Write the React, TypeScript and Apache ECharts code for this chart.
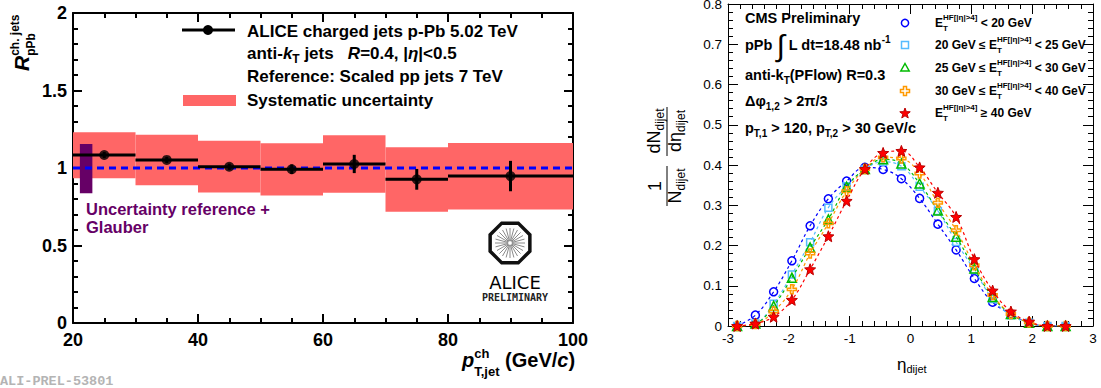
import React, { useEffect, useRef } from "react";
import * as echarts from "echarts";

// ---------- Left panel data (ALICE R_pPb) ----------
const binLo = [20, 30, 40, 50, 60, 70, 80];
const binHi = [30, 40, 50, 60, 70, 80, 100];
const binCenter = [25, 35, 45, 55, 65, 75, 90];
const rpPb = [1.084, 1.052, 1.008, 0.992, 1.026, 0.927, 0.948];
const statErr = [0.02, 0.02, 0.02, 0.031, 0.059, 0.067, 0.098];
const sysLo = [0.934, 0.889, 0.842, 0.823, 0.841, 0.718, 0.733];
const sysHi = [1.23, 1.215, 1.176, 1.159, 1.211, 1.134, 1.161];
const refUncX = [21.1, 23.1];
const refUncY = [0.837, 1.155];
const unityX = [20, 100];
const unityY = [1, 1];
const leftLegend = [
  "ALICE charged jets p-Pb 5.02 TeV",
  "Reference: Scaled pp jets 7 TeV",
  "Systematic uncertainty",
];
const refCaption = "Uncertainty reference +\nGlauber";

// ---------- Right panel data (CMS dijet eta) ----------
const etaBins = [-2.85, -2.55, -2.25, -1.95, -1.65, -1.35, -1.05, -0.75, -0.45, -0.15, 0.15, 0.45, 0.75, 1.05, 1.35, 1.65, 1.95, 2.25, 2.55];
const hfBin1 = [0.0, 0.027, 0.085, 0.162, 0.249, 0.316, 0.36, 0.394, 0.389, 0.366, 0.317, 0.253, 0.189, 0.118, 0.059, 0.03, 0.008, 0.0, 0.0];
const hfBin2 = [0.0, 0.006, 0.055, 0.128, 0.208, 0.294, 0.347, 0.389, 0.408, 0.397, 0.346, 0.286, 0.209, 0.139, 0.067, 0.027, 0.008, 0.0, 0.0];
const hfBin3 = [0.0, 0.006, 0.05, 0.12, 0.195, 0.265, 0.346, 0.39, 0.414, 0.404, 0.354, 0.287, 0.222, 0.143, 0.072, 0.03, 0.008, 0.0, 0.0];
const hfBin4 = [0.0, 0.005, 0.036, 0.091, 0.18, 0.255, 0.335, 0.39, 0.419, 0.416, 0.379, 0.306, 0.238, 0.151, 0.077, 0.03, 0.009, 0.0, 0.0];
const hfBin5 = [0.0, 0.006, 0.023, 0.065, 0.141, 0.223, 0.311, 0.39, 0.43, 0.435, 0.394, 0.331, 0.271, 0.166, 0.088, 0.036, 0.011, 0.0, 0.0];
const hfPre = ["", "20 GeV ≤ ", "25 GeV ≤ ", "30 GeV ≤ ", ""];
const hfPost = [" < 20 GeV", " < 25 GeV", " < 30 GeV", " < 40 GeV", " ≥ 40 GeV"];

const FF = '"Liberation Sans", "DejaVu Sans", Arial, sans-serif';

let mctx: CanvasRenderingContext2D | null = null;
function tw(text: string, font: string): number {
  if (!mctx) mctx = document.createElement("canvas").getContext("2d");
  mctx!.font = font;
  return mctx!.measureText(text).width;
}

type Part = { t: string; s: number; w?: string; dy?: number; stack?: boolean; fill?: string; fam?: string };

function formula(parts: Part[], x: number, y: number, opts: { align?: string; rotation?: number; fill?: string } = {}) {
  const items: { x: number; p: Part; font: string }[] = [];
  let cx = 0;
  for (let i = 0; i < parts.length; i++) {
    const p = parts[i];
    const font = `${p.w || "bold"} ${p.s}px ${p.fam || FF}`;
    const w = tw(p.t, font);
    if (p.stack && i + 1 < parts.length) {
      const q = parts[i + 1];
      const fq = `${q.w || "bold"} ${q.s}px ${q.fam || FF}`;
      const wq = tw(q.t, fq);
      items.push({ x: cx, p, font });
      items.push({ x: cx, p: q, font: fq });
      cx += Math.max(w, wq);
      i++;
    } else {
      items.push({ x: cx, p, font });
      cx += w;
    }
  }
  const off = opts.align === "center" ? -cx / 2 : opts.align === "right" ? -cx : 0;
  return {
    type: "group",
    x,
    y,
    rotation: opts.rotation || 0,
    silent: true,
    children: items.map((it) => ({
      type: "text",
      x: it.x + off,
      y: it.p.dy || 0,
      style: {
        text: it.p.t,
        font: it.font,
        fill: it.p.fill || opts.fill || "#000",
        align: "left",
        verticalAlign: "middle",
      },
    })),
  };
}

const starPath = "path://M12,1 L14.9,8.6 L23,9.2 L16.8,14.5 L18.7,22.5 L12,18.2 L5.3,22.5 L7.2,14.5 L1,9.2 L9.1,8.6 Z";
const plusPath = "path://M9,1 L15,1 L15,9 L23,9 L23,15 L15,15 L15,23 L9,23 L9,15 L1,15 L1,9 L9,9 Z";

const rightSeriesCfg = [
  { data: hfBin1, color: "#0000ff", symbol: "circle", size: 8, fill: "rgba(0,0,0,0)", border: "#0000ff" },
  { data: hfBin2, color: "#55bbff", symbol: "rect", size: 7, fill: "rgba(0,0,0,0)", border: "#55bbff" },
  { data: hfBin3, color: "#00bb00", symbol: "triangle", size: 9, fill: "rgba(0,0,0,0)", border: "#00bb00" },
  { data: hfBin4, color: "#ff9900", symbol: plusPath, size: 9, fill: "rgba(0,0,0,0)", border: "#ff9900" },
  { data: hfBin5, color: "#ff0000", symbol: starPath, size: 11, fill: "#ff0000", border: "#bb0000" },
];

function starPoints(cx: number, cy: number, r1: number, r2: number) {
  const pts: number[][] = [];
  for (let k = 0; k < 10; k++) {
    const a = -Math.PI / 2 + (k * Math.PI) / 5;
    const r = k % 2 === 0 ? r1 : r2;
    pts.push([cx + r * Math.cos(a), cy + r * Math.sin(a)]);
  }
  return pts;
}

function buildOption() {
  const leftAxisStyle = {
    axisLine: { show: true, onZero: false, lineStyle: { color: "#000", width: 2 } },
    axisTick: { show: true, inside: true, length: 9, lineStyle: { color: "#000", width: 2 } },
    minorTick: { show: true, length: 5, lineStyle: { color: "#000", width: 2 } },
    splitLine: { show: false },
    minorSplitLine: { show: false },
  };
  const rightAxisStyle = {
    axisLine: { show: true, onZero: false, lineStyle: { color: "#000", width: 1 } },
    axisTick: { show: true, inside: true, length: 10, lineStyle: { color: "#000", width: 1 } },
    minorTick: { show: true, length: 5, lineStyle: { color: "#000", width: 1 } },
    splitLine: { show: false },
    minorSplitLine: { show: false },
  };
  const leftLabel = { show: true, fontFamily: FF, fontWeight: "bold", fontSize: 18, color: "#000", showMinLabel: true, showMaxLabel: true };
  const rightLabel = { show: true, fontFamily: FF, fontWeight: "normal", fontSize: 13.5, color: "#000", showMinLabel: true, showMaxLabel: true };
  const fmt = (v: number) => (v === 0 ? "0" : String(+v.toFixed(1)));

  const graphics: any[] = [];
  // left y title
  graphics.push(
    formula(
      [
        { t: "R", s: 21, w: "italic bold" },
        { t: "ch. jets", s: 12, dy: -6, stack: true },
        { t: "pPb", s: 12, dy: 10 },
      ],
      21,
      71,
      { rotation: Math.PI / 2 }
    )
  );
  // left x title
  graphics.push(
    formula(
      [
        { t: "p", s: 20, w: "italic bold" },
        { t: "ch", s: 13, dy: -7, stack: true },
        { t: "T,jet", s: 13, dy: 11 },
        { t: " (GeV/", s: 20 },
        { t: "c", s: 20, w: "italic bold" },
        { t: ")", s: 20 },
      ],
      462,
      360
    )
  );
  // left legend
  graphics.push({ type: "line", shape: { x1: 182, y1: 30, x2: 235, y2: 30 }, style: { stroke: "#000", lineWidth: 3 } });
  graphics.push({ type: "circle", shape: { cx: 208, cy: 30, r: 5 }, style: { fill: "#000" } });
  graphics.push(formula([{ t: leftLegend[0], s: 17 }], 247, 31));
  graphics.push(
    formula(
      [
        { t: "anti-", s: 17 },
        { t: "k", s: 17, w: "italic bold" },
        { t: "T", s: 12, dy: 6 },
        { t: " jets   ", s: 17 },
        { t: "R", s: 17, w: "italic bold" },
        { t: "=0.4, |", s: 17 },
        { t: "η", s: 17, w: "italic bold" },
        { t: "|<0.5", s: 17 },
      ],
      247,
      53
    )
  );
  graphics.push(formula([{ t: leftLegend[1], s: 17 }], 247, 76));
  graphics.push({ type: "rect", shape: { x: 183, y: 95, width: 53, height: 11 }, style: { fill: "#ff6666" } });
  graphics.push(formula([{ t: leftLegend[2], s: 17 }], 247, 100));
  // purple caption
  graphics.push({
    type: "text",
    x: 86,
    y: 218,
    silent: true,
    style: { text: refCaption, font: `bold 16.5px ${FF}`, fill: "#660066", align: "left", verticalAlign: "middle", lineHeight: 17.5 },
  });
  // ALICE logo
  const ocx = 510, ocy = 243, orad = 21.5;
  const oct: number[][] = [];
  for (let k = 0; k < 8; k++) {
    const a = Math.PI / 8 + (k * Math.PI) / 4;
    oct.push([ocx + orad * Math.cos(a), ocy + orad * Math.sin(a)]);
  }
  graphics.push({ type: "polygon", shape: { points: oct }, style: { fill: "#fff", stroke: "#111", lineWidth: 3.5 } });
  for (let k = 0; k < 24; k++) {
    const a = (k * Math.PI) / 12;
    graphics.push({
      type: "line",
      shape: { x1: ocx + 2 * Math.cos(a), y1: ocy + 2 * Math.sin(a), x2: ocx + 15 * Math.cos(a), y2: ocy + 15 * Math.sin(a) },
      style: { stroke: "#8a8a8a", lineWidth: 1 },
    });
  }
  graphics.push({
    type: "text",
    x: 515,
    y: 282,
    style: { text: "ALICE", font: 'normal 18px "DejaVu Sans", sans-serif', fill: "#000", align: "center", verticalAlign: "middle" },
  });
  graphics.push({
    type: "text",
    x: 515,
    y: 297,
    style: { text: "PRELIMINARY", font: 'bold 10px "DejaVu Sans Mono", monospace', fill: "#222", align: "center", verticalAlign: "middle" },
  });
  graphics.push({
    type: "text",
    x: 0,
    y: 381,
    style: { text: "ALI-PREL-53801", font: 'bold 13.5px "Liberation Mono", monospace', fill: "#b4b4b4", align: "left", verticalAlign: "middle" },
  });

  // right panel titles
  graphics.push(formula([{ t: "dN", s: 18, w: "normal" }, { t: "dijet", s: 12, w: "normal", dy: 6 }], 654, 131, { align: "center", rotation: Math.PI / 2 }));
  graphics.push(formula([{ t: "dη", s: 18, w: "normal" }, { t: "dijet", s: 12, w: "normal", dy: 6 }], 675, 131, { align: "center", rotation: Math.PI / 2 }));
  graphics.push({ type: "line", shape: { x1: 667, y1: 107, x2: 667, y2: 156 }, style: { stroke: "#000", lineWidth: 1 } });
  graphics.push(formula([{ t: "1", s: 18, w: "normal" }], 655, 186, { align: "center", rotation: Math.PI / 2 }));
  graphics.push(formula([{ t: "N", s: 18, w: "normal" }, { t: "dijet", s: 12, w: "normal", dy: 6 }], 675, 186, { align: "center", rotation: Math.PI / 2 }));
  graphics.push({ type: "line", shape: { x1: 667, y1: 166, x2: 667, y2: 206 }, style: { stroke: "#000", lineWidth: 1 } });
  graphics.push(formula([{ t: "η", s: 17, w: "normal" }, { t: "dijet", s: 11, w: "normal", dy: 5 }], 897, 364));

  // right panel text block
  graphics.push(formula([{ t: "CMS Preliminary", s: 14.5 }], 745, 18));
  graphics.push(
    formula(
      [
        { t: "pPb ", s: 14.5 },
        { t: "∫", s: 30, w: "normal" },
        { t: " L dt=18.48 nb", s: 14.5 },
        { t: "-1", s: 10, dy: -6 },
      ],
      745,
      45
    )
  );
  graphics.push(formula([{ t: "anti-k", s: 14.5 }, { t: "T", s: 10, dy: 5 }, { t: "(PFlow) R=0.3", s: 14.5 }], 745, 75));
  graphics.push(formula([{ t: "Δφ", s: 14.5 }, { t: "1,2", s: 10, dy: 5 }, { t: " > 2π/3", s: 14.5 }], 745, 101));
  graphics.push(
    formula(
      [
        { t: "p", s: 14.5 },
        { t: "T,1", s: 10, dy: 5 },
        { t: " > 120, p", s: 14.5 },
        { t: "T,2", s: 10, dy: 5 },
        { t: " > 30 GeV/c", s: 14.5 },
      ],
      745,
      128
    )
  );
  // right legend
  const rowsY = [23, 45, 68, 91, 113];
  rowsY.forEach((ry, i) => {
    const parts: Part[] = [];
    if (hfPre[i]) parts.push({ t: hfPre[i], s: 12 });
    parts.push({ t: "E", s: 12 });
    parts.push({ t: "HF[|η|>4]", s: 8, dy: -6, stack: true });
    parts.push({ t: "T", s: 8, dy: 5 });
    parts.push({ t: hfPost[i], s: 12 });
    graphics.push(formula(parts, 935, ry));
  });
  const mx = 905;
  graphics.push({ type: "circle", shape: { cx: mx, cy: rowsY[0], r: 3.6 }, style: { fill: "none", stroke: "#0000ff", lineWidth: 1.5 } });
  graphics.push({ type: "rect", shape: { x: mx - 3.5, y: rowsY[1] - 3.5, width: 7, height: 7 }, style: { fill: "none", stroke: "#55bbff", lineWidth: 1.5 } });
  graphics.push({
    type: "polygon",
    shape: { points: [[mx, rowsY[2] - 4.5], [mx + 4.2, rowsY[2] + 3], [mx - 4.2, rowsY[2] + 3]] },
    style: { fill: "none", stroke: "#00bb00", lineWidth: 1.5 },
  });
  const py = rowsY[3];
  graphics.push({
    type: "polygon",
    shape: {
      points: [
        [mx - 1.5, py - 4.5], [mx + 1.5, py - 4.5], [mx + 1.5, py - 1.5], [mx + 4.5, py - 1.5], [mx + 4.5, py + 1.5], [mx + 1.5, py + 1.5],
        [mx + 1.5, py + 4.5], [mx - 1.5, py + 4.5], [mx - 1.5, py + 1.5], [mx - 4.5, py + 1.5], [mx - 4.5, py - 1.5], [mx - 1.5, py - 1.5],
      ],
    },
    style: { fill: "none", stroke: "#ff9900", lineWidth: 1.5 },
  });
  graphics.push({ type: "polygon", shape: { points: starPoints(mx, rowsY[4] + 0.5, 5.5, 2.3) }, style: { fill: "#ff0000", stroke: "#bb0000", lineWidth: 1 } });

  const series: any[] = [
    {
      type: "custom",
      name: "Systematic uncertainty",
      xAxisIndex: 0,
      yAxisIndex: 0,
      z: 1,
      silent: true,
      data: binLo.map((lo, i) => [lo, binHi[i], sysLo[i], sysHi[i]]),
      renderItem: (_p: any, api: any) => {
        const a = api.coord([api.value(0), api.value(3)]);
        const b = api.coord([api.value(1), api.value(2)]);
        return { type: "rect", shape: { x: a[0], y: a[1], width: b[0] - a[0], height: b[1] - a[1] }, style: { fill: "#ff6666" } };
      },
    },
    {
      type: "custom",
      name: "Uncertainty reference + Glauber",
      xAxisIndex: 0,
      yAxisIndex: 0,
      z: 2,
      silent: true,
      data: [[refUncX[0], refUncX[1], refUncY[0], refUncY[1]]],
      renderItem: (_p: any, api: any) => {
        const a = api.coord([api.value(0), api.value(3)]);
        const b = api.coord([api.value(1), api.value(2)]);
        return { type: "rect", shape: { x: a[0], y: a[1], width: b[0] - a[0], height: b[1] - a[1] }, style: { fill: "#660066" } };
      },
    },
    {
      type: "line",
      name: "unity",
      xAxisIndex: 0,
      yAxisIndex: 0,
      z: 3,
      silent: true,
      symbol: "none",
      data: unityX.map((x, i) => [x, unityY[i]]),
      lineStyle: { color: "#0000ff", width: 3, type: [7, 5] },
    },
    {
      type: "custom",
      name: "bins",
      xAxisIndex: 0,
      yAxisIndex: 0,
      z: 4,
      silent: true,
      data: binLo.map((lo, i) => [lo, binHi[i], binCenter[i], rpPb[i], statErr[i]]),
      renderItem: (_p: any, api: any) => {
        const y = api.value(3);
        const a = api.coord([api.value(0), y]);
        const b = api.coord([api.value(1), y]);
        const c = api.coord([api.value(2), y - api.value(4)]);
        const d = api.coord([api.value(2), y + api.value(4)]);
        return {
          type: "group",
          children: [
            { type: "line", shape: { x1: a[0], y1: a[1], x2: b[0], y2: b[1] }, style: { stroke: "#000", lineWidth: 3 } },
            { type: "line", shape: { x1: c[0], y1: c[1], x2: d[0], y2: d[1] }, style: { stroke: "#000", lineWidth: 3 } },
          ],
        };
      },
    },
    {
      type: "scatter",
      name: "ALICE charged jets",
      xAxisIndex: 0,
      yAxisIndex: 0,
      z: 5,
      silent: true,
      symbol: "circle",
      symbolSize: 10,
      itemStyle: { color: "#000" },
      data: binCenter.map((x, i) => [x, rpPb[i]]),
    },
  ];
  rightSeriesCfg.forEach((c, k) => {
    series.push({
      type: "line",
      name: "hf" + k,
      xAxisIndex: 2,
      yAxisIndex: 2,
      z: 3 + k,
      silent: true,
      smooth: 0.4,
      showAllSymbol: true,
      symbol: c.symbol,
      symbolSize: c.size,
      lineStyle: { color: c.color, width: 1.2, type: [3, 3] },
      itemStyle: { color: c.fill, borderColor: c.border, borderWidth: c.symbol === starPath ? 1 : 1.5 },
      data: etaBins.map((e, i) => [e, c.data[i]]),
    });
  });

  return {
    animation: false,
    backgroundColor: "#fff",
    grid: [
      { left: 73, top: 13, width: 500, height: 310, outerBoundsMode: "none", containLabel: false },
      { left: 728, top: 4, width: 365, height: 322, outerBoundsMode: "none", containLabel: false },
    ],
    xAxis: [
      { type: "value", gridIndex: 0, position: "bottom", min: 20, max: 100, interval: 20, ...leftAxisStyle, minorTick: { ...leftAxisStyle.minorTick, splitNumber: 4 }, axisLabel: { ...leftLabel, margin: 8 } },
      { type: "value", gridIndex: 0, position: "top", min: 20, max: 100, interval: 20, ...leftAxisStyle, minorTick: { ...leftAxisStyle.minorTick, splitNumber: 4 }, axisLabel: { show: false } },
      { type: "value", gridIndex: 1, position: "bottom", min: -3, max: 3, interval: 1, ...rightAxisStyle, minorTick: { ...rightAxisStyle.minorTick, splitNumber: 5 }, axisLabel: { ...rightLabel, margin: 5 } },
      { type: "value", gridIndex: 1, position: "top", min: -3, max: 3, interval: 1, ...rightAxisStyle, minorTick: { ...rightAxisStyle.minorTick, splitNumber: 5 }, axisLabel: { show: false } },
    ],
    yAxis: [
      { type: "value", gridIndex: 0, position: "left", min: 0, max: 2, interval: 0.5, ...leftAxisStyle, minorTick: { ...leftAxisStyle.minorTick, splitNumber: 5 }, axisLabel: { ...leftLabel, margin: 6, formatter: fmt } },
      { type: "value", gridIndex: 0, position: "right", min: 0, max: 2, interval: 0.5, ...leftAxisStyle, minorTick: { ...leftAxisStyle.minorTick, splitNumber: 5 }, axisLabel: { show: false } },
      { type: "value", gridIndex: 1, position: "left", min: 0, max: 0.8, interval: 0.1, ...rightAxisStyle, minorTick: { ...rightAxisStyle.minorTick, splitNumber: 5 }, axisLabel: { ...rightLabel, margin: 6, formatter: fmt } },
      { type: "value", gridIndex: 1, position: "right", min: 0, max: 0.8, interval: 0.1, ...rightAxisStyle, minorTick: { ...rightAxisStyle.minorTick, splitNumber: 5 }, axisLabel: { show: false } },
    ],
    series,
    graphic: { elements: graphics },
  };
}

export default function App() {
  const ref = useRef<HTMLDivElement>(null);
  useEffect(() => {
    const el = ref.current;
    if (!el) return;
    const chart = echarts.init(el, null, { renderer: "svg" });
    chart.setOption(buildOption() as any);
    return () => chart.dispose();
  }, []);
  return (
    <div
      ref={ref}
      style={{ position: "fixed", left: 0, top: 0, width: 1101, height: 388, background: "#fff" }}
    />
  );
}
